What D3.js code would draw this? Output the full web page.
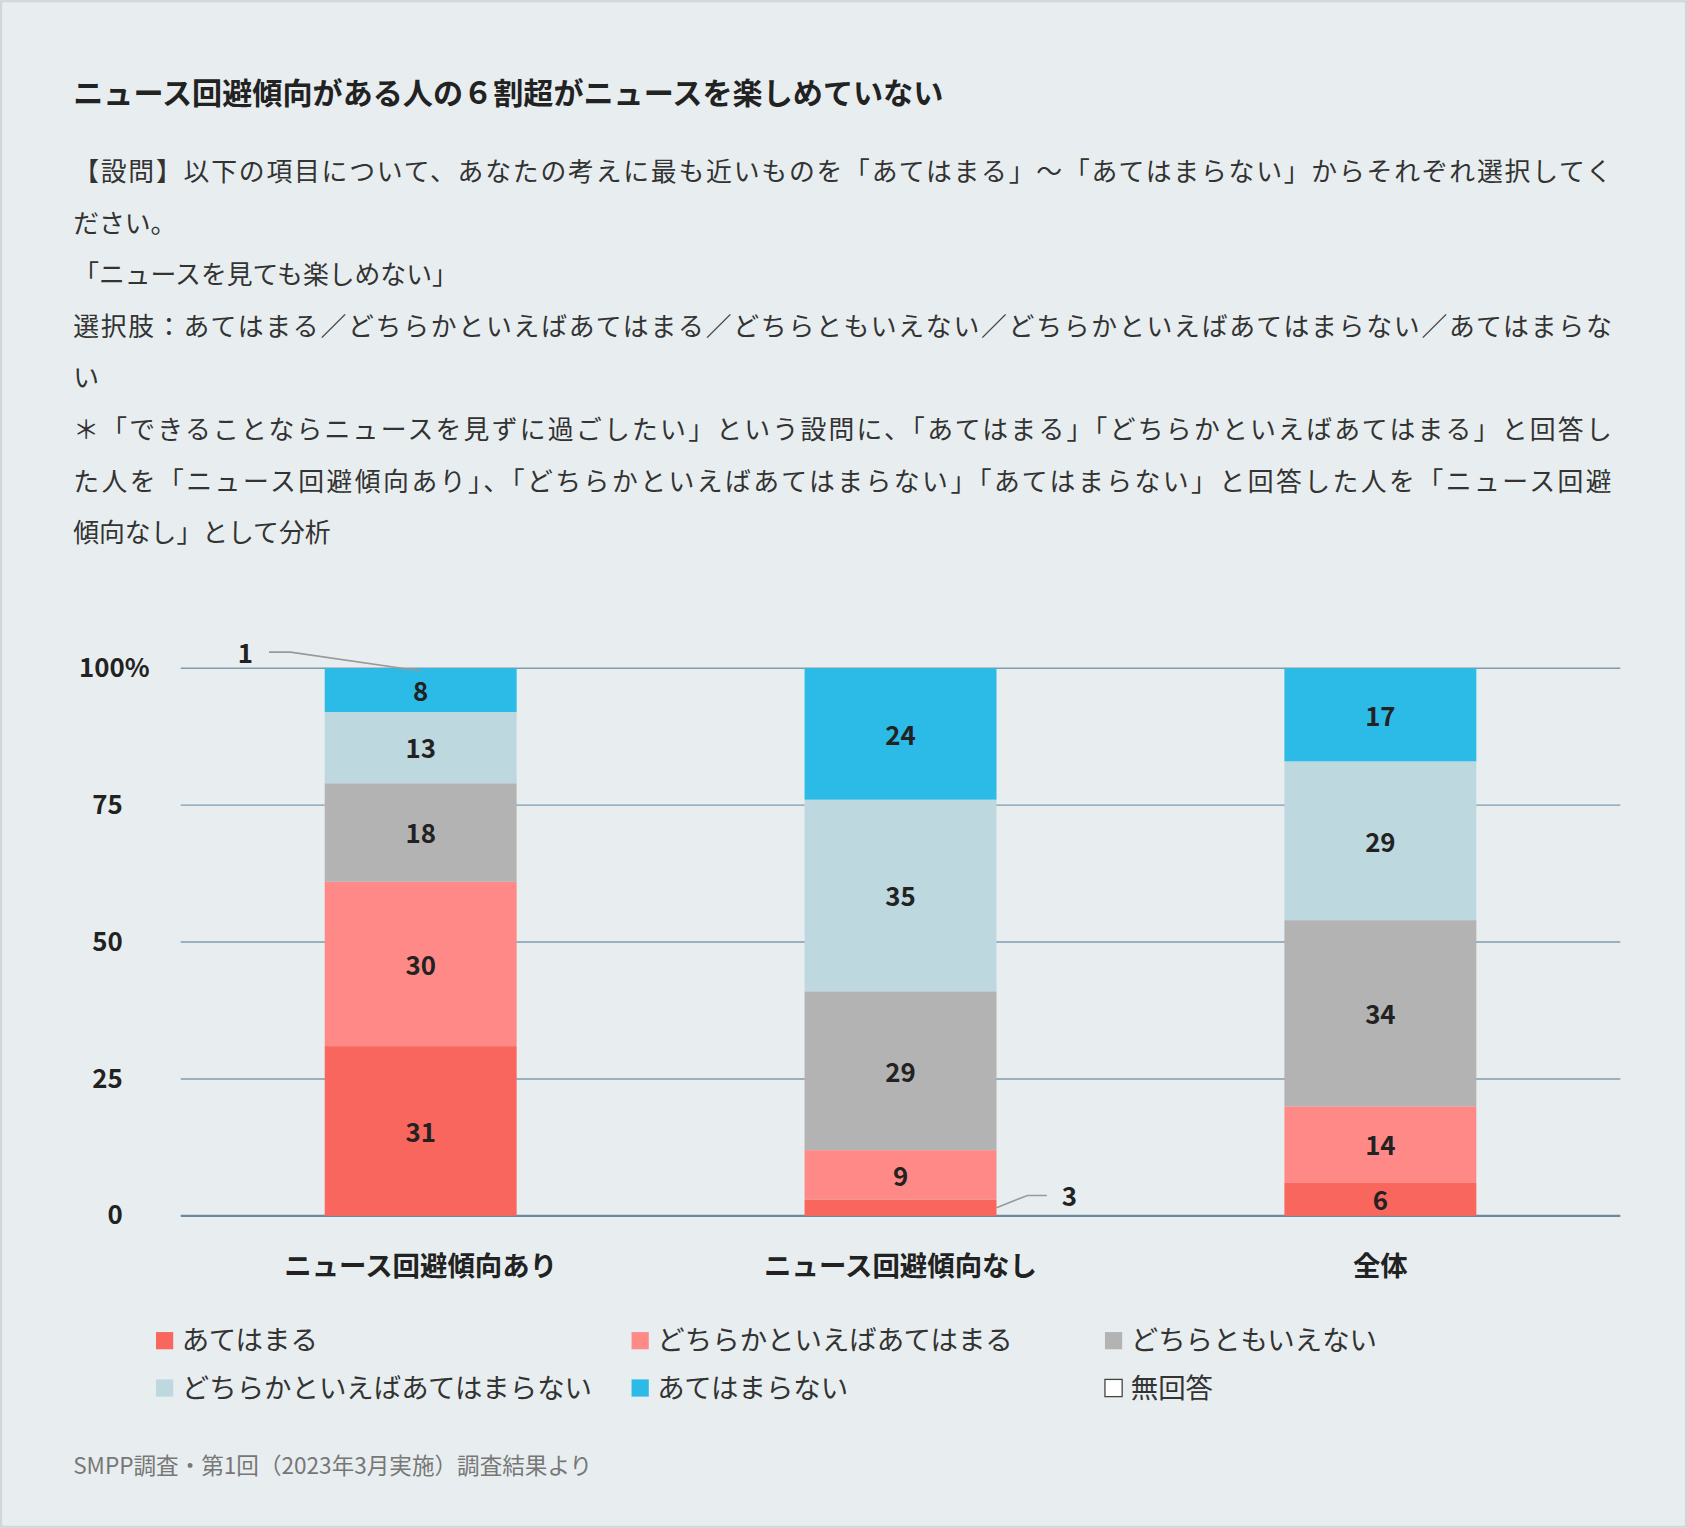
<!DOCTYPE html>
<html><head><meta charset="utf-8">
<script src="https://cdn.jsdelivr.net/npm/d3@7"></script>
<style>
body{margin:0;background:#fff;}
text{font-family:"Noto Sans CJK JP","Noto Sans",sans-serif;}
</style></head>
<body><div id="chart"></div>
<script>
// data
var groups = ["ニュース回避傾向あり", "ニュース回避傾向なし", "全体"];
var answers = ["あてはまる", "どちらかといえばあてはまる", "どちらともいえない", "どちらかといえばあてはまらない", "あてはまらない", "無回答"];
var colors = ["#f9665d", "#ff8987", "#b3b3b3", "#bed8e0", "#2bbbe6", "none"];
var values = [
  [31, 30, 18, 13, 8, 1],
  [3, 9, 29, 35, 24, 0],
  [6, 14, 34, 29, 17, 0]
];
var yTicks = [0, 25, 50, 75, 100];
var textLines = [
  "【設問】以下の項目について、あなたの考えに最も近いものを「あてはまる」〜「あてはまらない」からそれぞれ選択してく",
  "ださい。",
  "「ニュースを見ても楽しめない」",
  "選択肢：あてはまる／どちらかといえばあてはまる／どちらともいえない／どちらかといえばあてはまらない／あてはまらな",
  "い",
  "＊「できることならニュースを見ずに過ごしたい」という設問に、「あてはまる」「どちらかといえばあてはまる」と回答し",
  "た人を「ニュース回避傾向あり」、「どちらかといえばあてはまらない」「あてはまらない」と回答した人を「ニュース回避",
  "傾向なし」として分析"
];
var fullLines = [0, 3, 5, 6];

var W = 1568, H = 1420;
var svg = d3.select("#chart").append("svg")
  .attr("width", 1687).attr("height", 1528)
  .attr("viewBox", "0 0 " + W + " " + H);

svg.append("rect").attr("x", 1).attr("y", 1).attr("width", W - 2).attr("height", H - 2)
  .attr("fill", "#e8eef0").attr("stroke", "#d3d6d8").attr("stroke-width", 2);

svg.append("text").attr("x", 68).attr("y", 97).attr("font-size", 28).attr("font-weight", "bold")
  .attr("fill", "#222").text("ニュース回避傾向がある人の６割超がニュースを楽しめていない");

textLines.forEach(function(t, i) {
  var tx = svg.append("text").attr("x", 68).attr("y", 168 + i * 48).attr("font-size", 24)
    .attr("fill", "#333").text(t);
  if (fullLines.indexOf(i) >= 0) tx.attr("textLength", 1430).attr("lengthAdjust", "spacing");
});

var x = d3.scaleBand().domain(groups).range([168, 1506]).paddingInner(0.6).paddingOuter(0.3);
var y = d3.scaleLinear().domain([0, 100]).range([1130, 621]);

// grid
yTicks.forEach(function(t) {
  svg.append("line").attr("x1", 168).attr("x2", 1506).attr("y1", y(t)).attr("y2", y(t))
    .attr("stroke", t == 0 ? "#6d8a9c" : "#7d9cb0").attr("stroke-width", t == 0 ? 2 : 1.3);
  var lab = svg.append("text").attr("x", 114).attr("y", y(t) + 8).attr("font-size", 24)
    .attr("font-weight", "bold").attr("fill", "#222").attr("text-anchor", "end").text(t);
  if (t == 100) lab.attr("x", 139).text("100%");
});

// bars
groups.forEach(function(g, gi) {
  var acc = 0;
  values[gi].forEach(function(v, ai) {
    var y0 = y(acc), y1 = y(acc + v);
    acc += v;
    if (colors[ai] == "none" || v == 0) return;
    svg.append("rect").attr("x", x(g)).attr("width", x.bandwidth())
      .attr("y", y1).attr("height", y0 - y1).attr("fill", colors[ai]);
    if (v >= 5) {
      svg.append("text").attr("x", x(g) + x.bandwidth() / 2).attr("y", (y0 + y1) / 2 + 10)
        .attr("text-anchor", "middle").attr("font-size", 24).attr("font-weight", "bold")
        .attr("fill", "#222").text(v);
    }
  });
  svg.append("text").attr("x", x(g) + x.bandwidth() / 2).attr("y", 1186)
    .attr("text-anchor", "middle").attr("font-size", 25.5).attr("font-weight", "bold")
    .attr("fill", "#222").text(g);
});

// callouts for small values
var cx0 = x(groups[0]) + x.bandwidth() / 2;
svg.append("polyline").attr("points", [[250, 606], [270, 606], [cx0, y(99.5)]].join(" "))
  .attr("fill", "none").attr("stroke", "#999").attr("stroke-width", 1.5);
svg.append("text").attr("x", 228).attr("y", 616).attr("text-anchor", "middle").attr("font-size", 24)
  .attr("font-weight", "bold").attr("fill", "#222").text(values[0][5]);
var bx1 = x(groups[1]) + x.bandwidth();
svg.append("polyline").attr("points", [[bx1, y(1.5)], [955, 1111], [973, 1111]].join(" "))
  .attr("fill", "none").attr("stroke", "#999").attr("stroke-width", 1.5);
svg.append("text").attr("x", 994).attr("y", 1121).attr("text-anchor", "middle").attr("font-size", 24)
  .attr("font-weight", "bold").attr("fill", "#222").text(values[1][0]);

// legend
var legX = [145, 587, 1027];
answers.forEach(function(a, i) {
  var lx = legX[i % 3], ly = 1246 + Math.floor(i / 3) * 44;
  svg.append("rect").attr("x", lx).attr("y", ly - 8).attr("width", 16).attr("height", 16)
    .attr("fill", colors[i] == "none" ? "#fff" : colors[i])
    .attr("stroke", colors[i] == "none" ? "#444" : "none").attr("stroke-width", 1.2);
  svg.append("text").attr("x", lx + 24).attr("y", ly + 9).attr("font-size", 25.5)
    .attr("fill", "#333").text(a);
});

svg.append("text").attr("x", 68).attr("y", 1370).attr("font-size", 21).attr("fill", "#777")
  .text("SMPP調査・第1回（2023年3月実施）調査結果より");
</script>
</body></html>
